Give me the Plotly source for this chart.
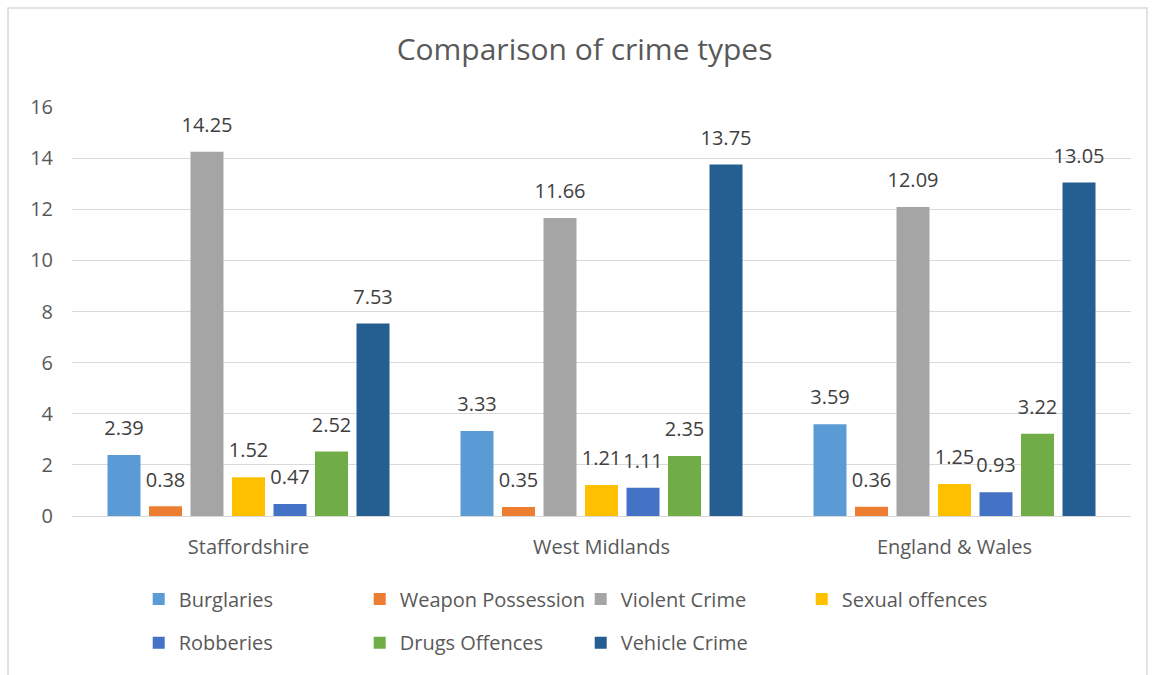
import plotly.graph_objects as go

categories = ["Staffordshire", "West Midlands", "England & Wales"]
series_names = ["Burglaries", "Weapon Possession", "Violent Crime", "Sexual offences",
                "Robberies", "Drugs Offences", "Vehicle Crime"]
burglaries = [2.39, 3.33, 3.59]
weapon_possession = [0.38, 0.35, 0.36]
violent_crime = [14.25, 11.66, 12.09]
sexual_offences = [1.52, 1.21, 1.25]
robberies = [0.47, 1.11, 0.93]
drugs_offences = [2.52, 2.35, 3.22]
vehicle_crime = [7.53, 13.75, 13.05]
y_ticks = [0, 2, 4, 6, 8, 10, 12, 14, 16]

series_values = [burglaries, weapon_possession, violent_crime, sexual_offences,
                 robberies, drugs_offences, vehicle_crime]
colors = ["#5B9BD5", "#ED7D31", "#A5A5A5", "#FFC000", "#4472C4", "#70AD47", "#255E91"]

FONT = "Open Sans"
GAP = 0.177
fig = go.Figure()
for i, (name, vals, col) in enumerate(zip(series_names, series_values, colors)):
    fig.add_trace(go.Bar(
        x=categories, y=vals, name=name,
        marker=dict(color=col, line=dict(width=0)),
        legend="legend" if i < 4 else "legend2",
    ))
# value labels, grouped in the same slots as the bars
for name, vals in zip(series_names, series_values):
    fig.add_trace(go.Scatter(
        x=categories, y=vals, mode="markers+text",
        text=[f"{v:.2f}" for v in vals], textposition="top center",
        marker=dict(size=22, color="rgba(0,0,0,0)"),
        textfont=dict(family=FONT, size=20, color="#404040"),
        showlegend=False, hoverinfo="skip", cliponaxis=False,
    ))

fig.update_layout(
    width=1153, height=675,
    margin=dict(l=72, r=22, t=107, b=159, autoexpand=False),
    paper_bgcolor="white", plot_bgcolor="white",
    barmode="group", bargap=GAP, bargroupgap=0.205,
    scattermode="group", scattergap=GAP,
    title=dict(text="Comparison of crime types", x=0.507, xanchor="center",
               y=0.926, yanchor="middle",
               font=dict(family=FONT, size=30, color="#595959")),
    font=dict(family=FONT, color="#595959"),
    yaxis=dict(range=[0, 16], tickvals=y_ticks, showgrid=True, gridcolor="#D9D9D9",
               gridwidth=1, zeroline=True, zerolinecolor="#D9D9D9", zerolinewidth=1,
               showline=False, ticks="", ticklabelstandoff=18, automargin=False,
               tickfont=dict(family=FONT, size=20, color="#595959")),
    xaxis=dict(showline=False, ticks="", ticklabelstandoff=17, automargin=False,
               tickfont=dict(family=FONT, size=20, color="#595959")),
    legend=dict(orientation="h", x=0.063, xanchor="left", y=-0.155, yanchor="top",
                entrywidth=176, entrywidthmode="pixels",
                font=dict(family=FONT, size=20, color="#595959")),
    legend2=dict(orientation="h", x=0.063, xanchor="left", y=-0.262, yanchor="top",
                 entrywidth=176, entrywidthmode="pixels",
                 font=dict(family=FONT, size=20, color="#595959")),
    showlegend=True,
)
fig.add_shape(type="rect", xref="paper", yref="paper",
              x0=-0.0604, x1=1.0151, y0=-0.41, y1=1.242,
              line=dict(color="#D9D9D9", width=1.5), fillcolor="rgba(0,0,0,0)", layer="below")

fig.write_html("out.html")
